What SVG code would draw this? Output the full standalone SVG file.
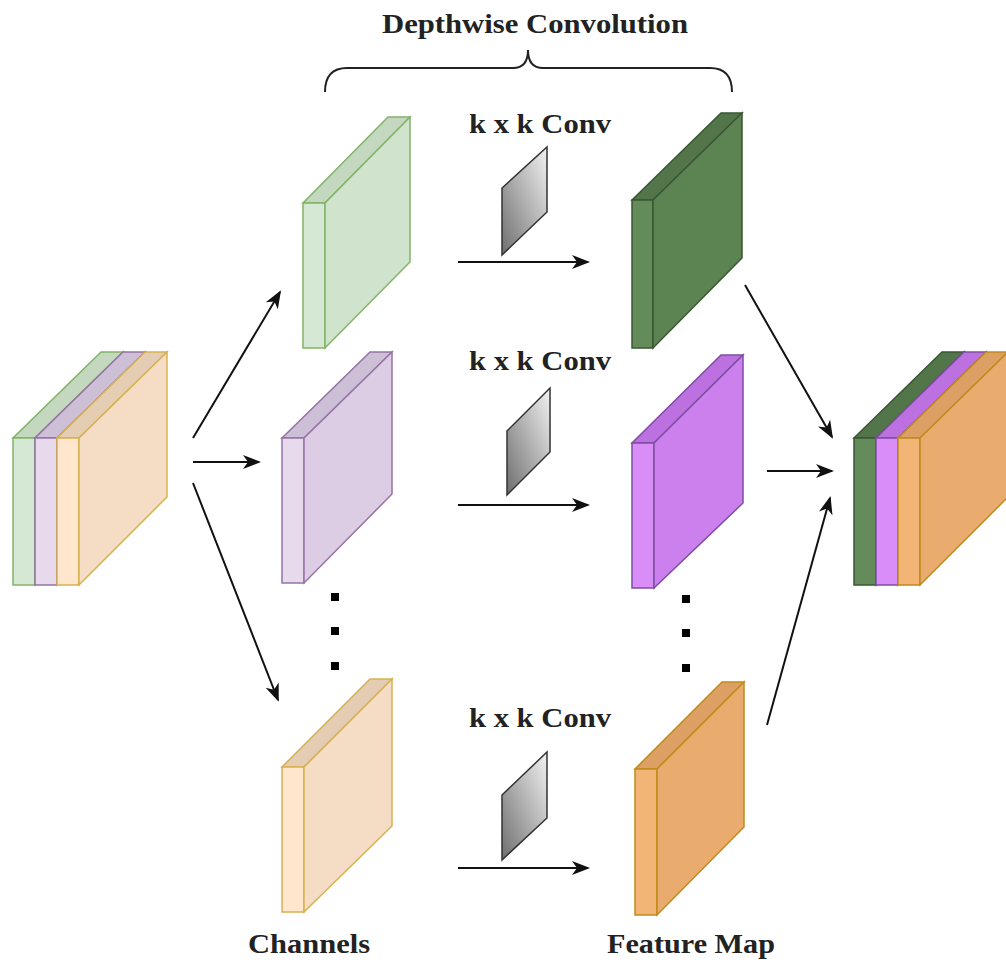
<svg xmlns="http://www.w3.org/2000/svg" width="1006" height="963" viewBox="0 0 1006 963">
<style>
.lbl{font-family:"Liberation Serif","Times New Roman",serif;font-weight:bold;fill:#222;text-anchor:middle}
.conn{stroke:#111;stroke-width:2;fill:none;marker-end:url(#ah)}
.kern{fill:url(#kg);stroke:#333;stroke-width:1.5}
.dot{fill:#000}
.g1f{fill:#d5e8d4;stroke:#82b366;stroke-width:1.5}
.g1t{fill:#c3d8bf;stroke:#82b366;stroke-width:1.5}
.g1s{fill:#cfe3cd;stroke:#82b366;stroke-width:1.5}
.p1f{fill:#e6daec;stroke:#9673a6;stroke-width:1.5}
.p1t{fill:#cdbfd6;stroke:#9673a6;stroke-width:1.5}
.p1s{fill:#dccde4;stroke:#9673a6;stroke-width:1.5}
.o1f{fill:#ffe6cc;stroke:#d6b24f;stroke-width:1.5}
.o1t{fill:#e5cdb3;stroke:#d6b24f;stroke-width:1.5}
.o1s{fill:#f5dcc4;stroke:#d6b24f;stroke-width:1.5}
.g2f{fill:#648b5a;stroke:#3a5733;stroke-width:1.5}
.g2t{fill:#527649;stroke:#3a5733;stroke-width:1.5}
.g2s{fill:#5c8352;stroke:#3a5733;stroke-width:1.5}
.p2f{fill:#d98ef7;stroke:#7d4ea3;stroke-width:1.5}
.p2t{fill:#bd70e0;stroke:#7d4ea3;stroke-width:1.5}
.p2s{fill:#cc80ee;stroke:#7d4ea3;stroke-width:1.5}
.o2f{fill:#f3b575;stroke:#c08a1e;stroke-width:1.5}
.o2t{fill:#dca065;stroke:#c08a1e;stroke-width:1.5}
.o2s{fill:#e9ac6e;stroke:#c08a1e;stroke-width:1.5}
</style>
<defs>
<marker id="ah" markerWidth="20" markerHeight="16" refX="16" refY="8" orient="auto" markerUnits="userSpaceOnUse">
<path d="M0,1 L18,8 L0,15 L5,8 z" fill="#111"/>
</marker>
<linearGradient id="kg" x1="0" y1="1" x2="1" y2="0">
<stop offset="0" stop-color="#6e6e6e"/>
<stop offset="1" stop-color="#f2f2f2"/>
</linearGradient>
</defs>
<rect width="1006" height="963" fill="#ffffff"/>

<g id="title">
<text class="lbl" x="535" y="33" font-size="28" textLength="306" lengthAdjust="spacingAndGlyphs">Depthwise Convolution</text>
<path d="M325,92 Q325,68 347,68 L513,68 Q528,68 528,50 Q528,68 543,68 L710,68 Q732,68 732,92" fill="none" stroke="#222" stroke-width="2"/>
</g>

<g id="input-stack">
<polygon class="g1t" points="13,438 35,438 123,352 101,352"/>
<rect class="g1f" x="13" y="438" width="22" height="147"/>
<polygon class="g1s" points="35,438 123,352 123,497 35,585"/>
<polygon class="p1t" points="35,438 57,438 145,352 123,352"/>
<rect class="p1f" x="35" y="438" width="22" height="147"/>
<polygon class="p1s" points="57,438 145,352 145,497 57,585"/>
<polygon class="o1t" points="57,438 79,438 167,352 145,352"/>
<rect class="o1f" x="57" y="438" width="22" height="147"/>
<polygon class="o1s" points="79,438 167,352 167,497 79,585"/>
</g>

<g id="channel-green">
<polygon class="g1t" points="303,203 325,203 410,117 388,117"/>
<rect class="g1f" x="303" y="203" width="22" height="145"/>
<polygon class="g1s" points="325,203 410,117 410,262 325,348"/>
</g>

<g id="channel-purple">
<polygon class="p1t" points="282,438 304,438 392,352 370,352"/>
<rect class="p1f" x="282" y="438" width="22" height="145"/>
<polygon class="p1s" points="304,438 392,352 392,494 304,583"/>
</g>

<g id="channel-orange">
<polygon class="o1t" points="282,767 304,767 392,679 370,679"/>
<rect class="o1f" x="282" y="767" width="22" height="145"/>
<polygon class="o1s" points="304,767 392,679 392,826 304,912"/>
</g>

<g id="fmap-green">
<polygon class="g2t" points="632,200 653,200 742,113 721,113"/>
<rect class="g2f" x="632" y="200" width="21" height="148"/>
<polygon class="g2s" points="653,200 742,113 742,258 653,348"/>
</g>

<g id="fmap-purple">
<polygon class="p2t" points="632,443 654,443 743,355 721,355"/>
<rect class="p2f" x="632" y="443" width="22" height="145"/>
<polygon class="p2s" points="654,443 743,355 743,503 654,588"/>
</g>

<g id="fmap-orange">
<polygon class="o2t" points="635,769 657,769 744,682 722,682"/>
<rect class="o2f" x="635" y="769" width="22" height="146"/>
<polygon class="o2s" points="657,769 744,682 744,827 657,915"/>
</g>

<g id="output-stack">
<polygon class="g2t" points="854,438 876,438 964,352 942,352"/>
<rect class="g2f" x="854" y="438" width="22" height="147"/>
<polygon class="g2s" points="876,438 964,352 964,497 876,585"/>
<polygon class="p2t" points="876,438 898,438 986,352 964,352"/>
<rect class="p2f" x="876" y="438" width="22" height="147"/>
<polygon class="p2s" points="898,438 986,352 986,497 898,585"/>
<polygon class="o2t" points="898,438 920,438 1008,352 986,352"/>
<rect class="o2f" x="898" y="438" width="22" height="147"/>
<polygon class="o2s" points="920,438 1008,352 1008,497 920,585"/>
</g>

<g id="kernel-1">
<text class="lbl" x="540" y="133" font-size="28" textLength="142" lengthAdjust="spacingAndGlyphs">k x k Conv</text>
<polygon class="kern" points="502,188 547,147 547,212 502,255"/>
</g>
<g id="kernel-2">
<text class="lbl" x="540" y="370" font-size="28" textLength="142" lengthAdjust="spacingAndGlyphs">k x k Conv</text>
<polygon class="kern" points="507,431 550,388 550,452 507,495"/>
</g>
<g id="kernel-3">
<text class="lbl" x="540" y="727" font-size="28" textLength="142" lengthAdjust="spacingAndGlyphs">k x k Conv</text>
<polygon class="kern" points="502,795 547,752 547,818 502,860"/>
</g>

<g id="dots">
<rect class="dot" x="331" y="593" width="8" height="8"/>
<rect class="dot" x="331" y="627" width="8" height="8"/>
<rect class="dot" x="331" y="662" width="8" height="8"/>
<rect class="dot" x="682" y="595" width="8" height="8"/>
<rect class="dot" x="682" y="629" width="8" height="8"/>
<rect class="dot" x="682" y="664" width="8" height="8"/>
</g>

<g id="labels">
<text class="lbl" x="309" y="953" font-size="28" textLength="122" lengthAdjust="spacingAndGlyphs">Channels</text>
<text class="lbl" x="691" y="953" font-size="28" textLength="168" lengthAdjust="spacingAndGlyphs">Feature Map</text>
</g>

<g id="connectors">
<line class="conn" x1="193" y1="438" x2="280" y2="292"/>
<line class="conn" x1="193" y1="462" x2="259" y2="462"/>
<line class="conn" x1="193" y1="483" x2="278" y2="700"/>
<line class="conn" x1="458" y1="262" x2="588" y2="262"/>
<line class="conn" x1="458" y1="505" x2="588" y2="505"/>
<line class="conn" x1="458" y1="868" x2="588" y2="868"/>
<line class="conn" x1="745" y1="285" x2="832" y2="437"/>
<line class="conn" x1="767" y1="471" x2="832" y2="471" stroke="#555"/>
<line class="conn" x1="767" y1="725" x2="830" y2="498"/>
</g>
</svg>
